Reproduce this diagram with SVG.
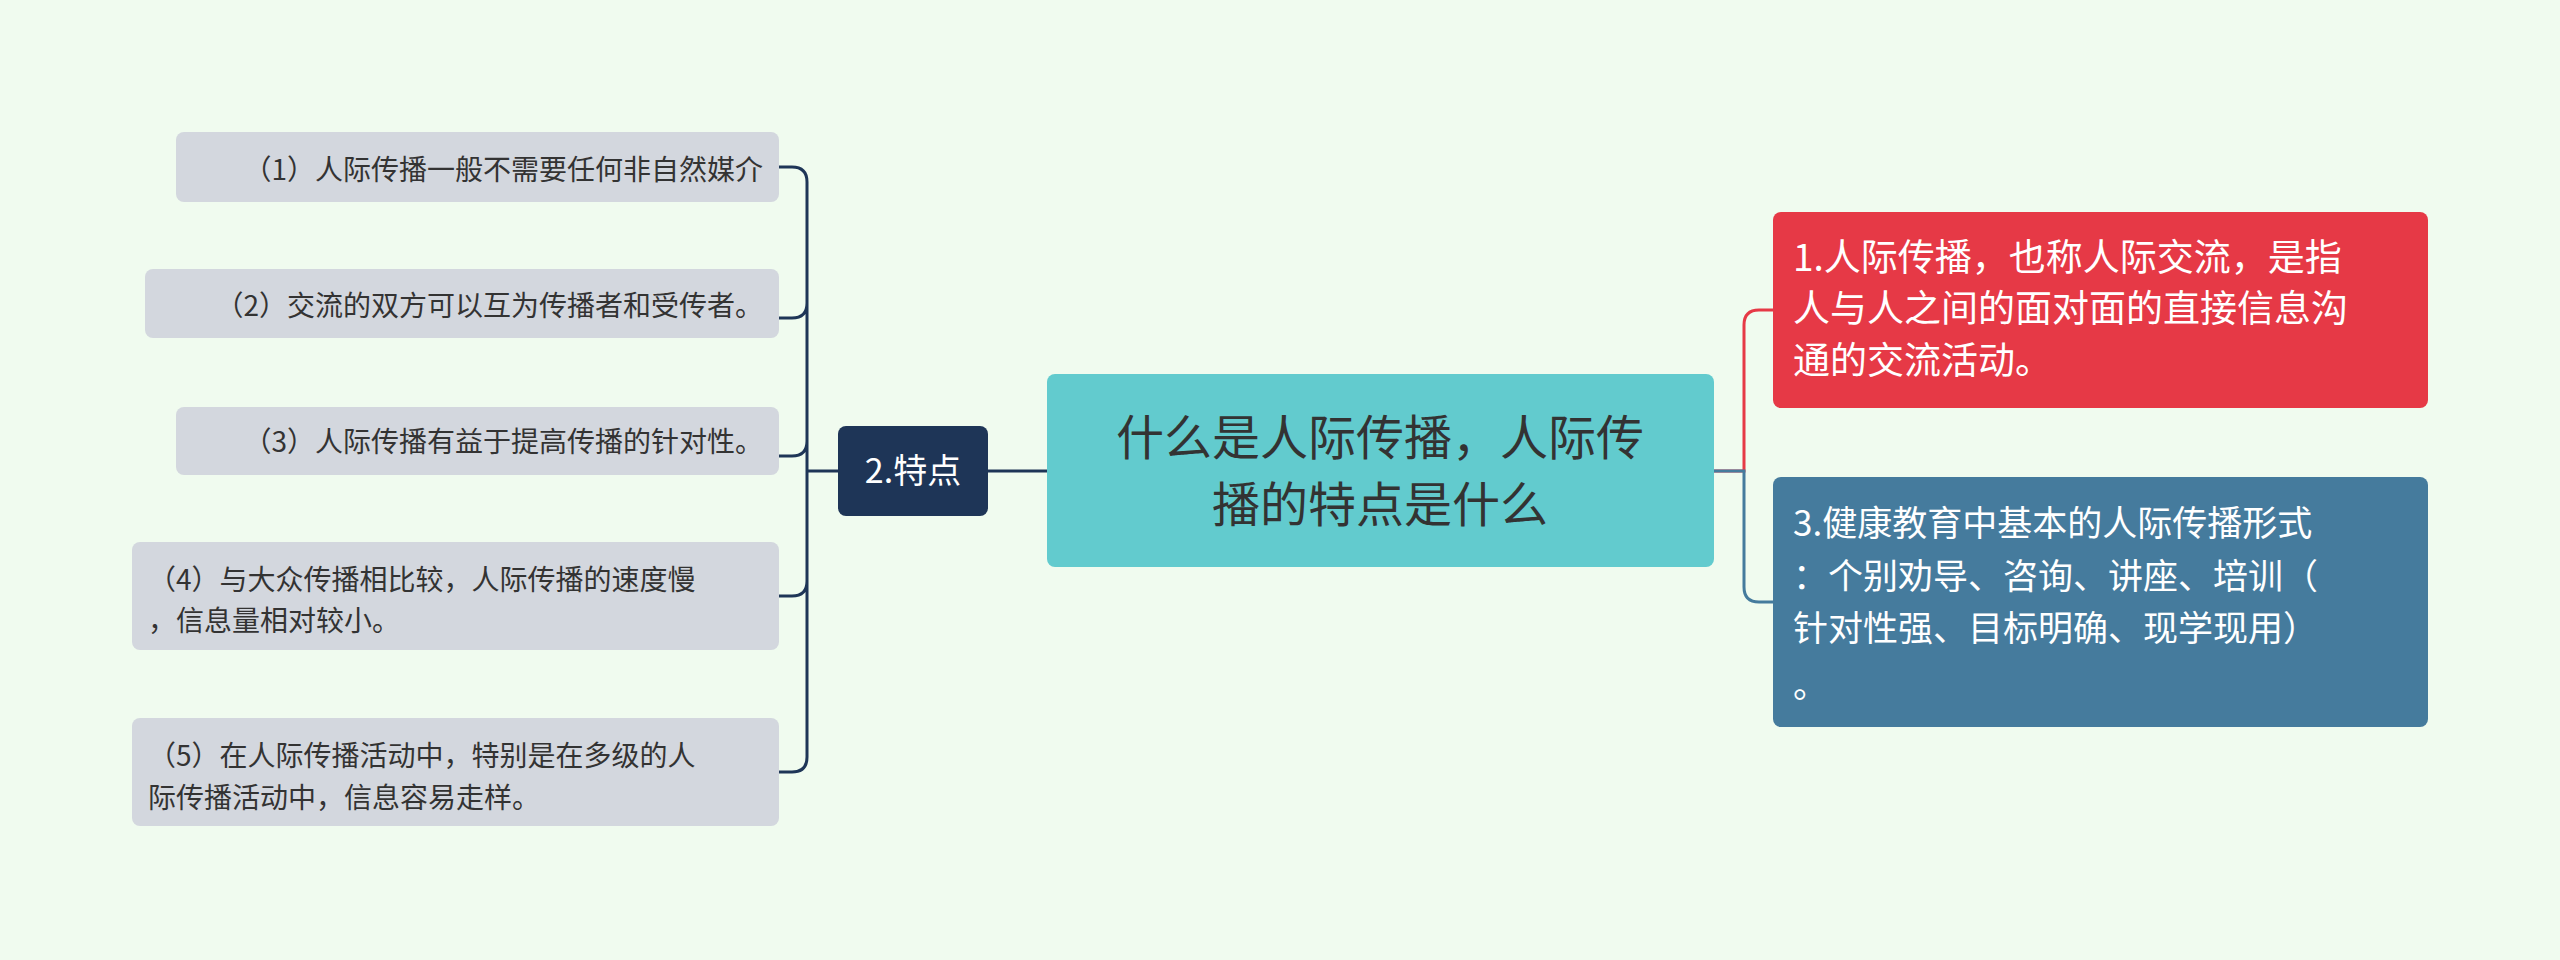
<svg xmlns="http://www.w3.org/2000/svg" width="2560" height="960" viewBox="0 0 2560 960">
<style>
text{font-family:"Noto Sans CJK SC","Liberation Sans",sans-serif}
.leaf{fill:#d3d7de}
.lt{font-size:28px;fill:#333}
.wt{fill:#fff}
.c{fill:none;stroke-width:3}
</style>
<rect width="2560" height="960" fill="#f0fbef"/>
<g id="connectors">
<path class="c" stroke="#1e3557" d="M1047 471H988"/>
<path class="c" stroke="#1e3557" d="M838 471H807M807 471V182Q807 167 792 167H779M807 303Q807 318 792 318H779M807 441Q807 456 792 456H779M807 471V757Q807 772 792 772H779M807 581Q807 596 792 596H779"/>
<path class="c" stroke="#e63946" d="M1714 471H1744V325Q1744 310 1759 310H1773"/>
<path class="c" stroke="#457b9d" d="M1714 471H1744V587Q1744 602 1759 602H1773"/>
</g>
<g id="center"><rect x="1047" y="374" width="667" height="193" rx="8" fill="#62cbce"/>
<text x="1380" y="455" font-size="48" fill="#333" text-anchor="middle">什么是人际传播，人际传</text>
<text x="1380" y="522" font-size="48" fill="#333" text-anchor="middle">播的特点是什么</text></g>
<g id="n2"><rect x="838" y="426" width="150" height="90" rx="8" fill="#1e3557"/>
<text x="913" y="483" font-size="34" class="wt" text-anchor="middle">2.特点</text></g>
<g id="l1"><rect class="leaf" x="176" y="132" width="603" height="70" rx="8"/><text class="lt" x="763" y="180" text-anchor="end">（1）人际传播一般不需要任何非自然媒介</text></g>
<g id="l2"><rect class="leaf" x="145" y="269" width="634" height="69" rx="8"/><text class="lt" x="763" y="316" text-anchor="end">（2）交流的双方可以互为传播者和受传者。</text></g>
<g id="l3"><rect class="leaf" x="176" y="407" width="603" height="68" rx="8"/><text class="lt" x="763" y="452" text-anchor="end">（3）人际传播有益于提高传播的针对性。</text></g>
<g id="l4"><rect class="leaf" x="132" y="542" width="647" height="108" rx="8"/><text class="lt" x="148" y="590">（4）与大众传播相比较，人际传播的速度慢</text><text class="lt" x="148" y="631">，信息量相对较小。</text></g>
<g id="l5"><rect class="leaf" x="132" y="718" width="647" height="108" rx="8"/><text class="lt" x="148" y="766">（5）在人际传播活动中，特别是在多级的人</text><text class="lt" x="148" y="808">际传播活动中，信息容易走样。</text></g>
<g id="r1"><rect x="1773" y="212" width="655" height="196" rx="8" fill="#e63946"/>
<text class="wt" font-size="37" x="1793" y="271">1.人际传播，也称人际交流，是指</text>
<text class="wt" font-size="37" x="1793" y="322">人与人之间的面对面的直接信息沟</text>
<text class="wt" font-size="37" x="1793" y="374">通的交流活动。</text></g>
<g id="r2"><rect x="1773" y="477" width="655" height="250" rx="8" fill="#457b9d"/>
<text class="wt" font-size="35" x="1793" y="536">3.健康教育中基本的人际传播形式</text>
<text class="wt" font-size="35" x="1793" y="589">：个别劝导、咨询、讲座、培训（</text>
<text class="wt" font-size="35" x="1793" y="641">针对性强、目标明确、现学现用）</text>
<text class="wt" font-size="35" x="1793" y="698">。</text></g>
</svg>
